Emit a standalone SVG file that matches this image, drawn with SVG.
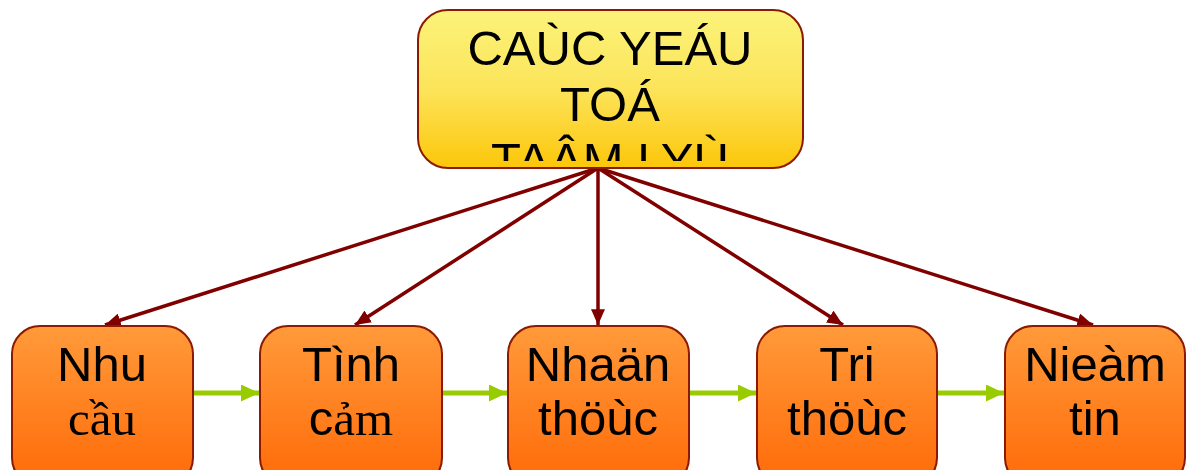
<svg xmlns="http://www.w3.org/2000/svg" width="1191" height="470" viewBox="0 0 1191 470">
<style>
.top{fill:url(#gy);stroke:#8b1a00;stroke-width:2}
.box{fill:url(#go);stroke:#8b1a00;stroke-width:2}
.t{font-family:"Liberation Sans",Arial,sans-serif;font-size:49px;fill:#000;text-anchor:middle}
.s{font-family:"Liberation Serif","Times New Roman",serif;font-size:49px;fill:#000;text-anchor:middle}
.red{stroke:#800000;stroke-width:3.5;fill:none;marker-end:url(#mr)}
.grn{stroke:#99cc00;stroke-width:5;fill:none;marker-end:url(#mg)}
</style>
<defs>
<linearGradient id="gy" x1="0" y1="0" x2="0" y2="1">
<stop offset="0" stop-color="#fbf37a"/>
<stop offset="0.5" stop-color="#fce45a"/>
<stop offset="1" stop-color="#fcc60a"/>
</linearGradient>
<linearGradient id="go" x1="0" y1="0" x2="0" y2="1">
<stop offset="0" stop-color="#ff9a3a"/>
<stop offset="1" stop-color="#ff6a08"/>
</linearGradient>
<marker id="mr" viewBox="0 0 10 10" refX="10" refY="5" markerWidth="4.5" markerHeight="4" orient="auto" markerUnits="strokeWidth" preserveAspectRatio="none">
<path d="M0,0 L10,5 L0,10 z" fill="#800000"/>
</marker>
<marker id="mg" viewBox="0 0 10 10" refX="10" refY="5" markerWidth="3.6" markerHeight="3.4" orient="auto" markerUnits="strokeWidth" preserveAspectRatio="none">
<path d="M0,0 L10,5 L0,10 z" fill="#99cc00"/>
</marker>
<clipPath id="ct"><rect x="418" y="10" width="385" height="151"/></clipPath>
</defs>
<g id="connectors">
<line class="red" x1="598" y1="168" x2="105" y2="325"/>
<line class="red" x1="598" y1="168" x2="355" y2="325"/>
<line class="red" x1="598" y1="168" x2="598" y2="325"/>
<line class="red" x1="598" y1="168" x2="843" y2="325"/>
<line class="red" x1="598" y1="168" x2="1093" y2="325"/>
<line class="grn" x1="193" y1="393" x2="259" y2="393"/>
<line class="grn" x1="442" y1="393" x2="507" y2="393"/>
<line class="grn" x1="689" y1="393" x2="756" y2="393"/>
<line class="grn" x1="937" y1="393" x2="1004" y2="393"/>
</g>
<g id="top">
<rect class="top" x="418" y="10" width="385" height="158" rx="30"/>
<g clip-path="url(#ct)">
<text class="t" x="610" y="65">CAÙC YEÁU</text>
<text class="t" x="610" y="121">TOÁ</text>
<text class="t" x="610" y="177">TAÂM LYÙ</text>
</g>
</g>
<g id="n1">
<rect class="box" x="12" y="326" width="181" height="160" rx="28"/>
<text class="t" x="102" y="381">Nhu</text>
<text class="s" x="102" y="435">cầu</text>
</g>
<g id="n2">
<rect class="box" x="260" y="326" width="182" height="160" rx="28"/>
<text class="t" x="351" y="381">Tình</text>
<text class="s" x="351" y="435"><tspan style="font-family:'Liberation Sans',Arial,sans-serif">c</tspan>ảm</text>
</g>
<g id="n3">
<rect class="box" x="508" y="326" width="181" height="160" rx="28"/>
<text class="t" x="598" y="381">Nhaän</text>
<text class="t" x="598" y="435">thöùc</text>
</g>
<g id="n4">
<rect class="box" x="757" y="326" width="180" height="160" rx="28"/>
<text class="t" x="847" y="381">Tri</text>
<text class="t" x="847" y="435">thöùc</text>
</g>
<g id="n5">
<rect class="box" x="1005" y="326" width="180" height="160" rx="28"/>
<text class="t" x="1095" y="381">Nieàm</text>
<text class="t" x="1095" y="435">tin</text>
</g>
</svg>
